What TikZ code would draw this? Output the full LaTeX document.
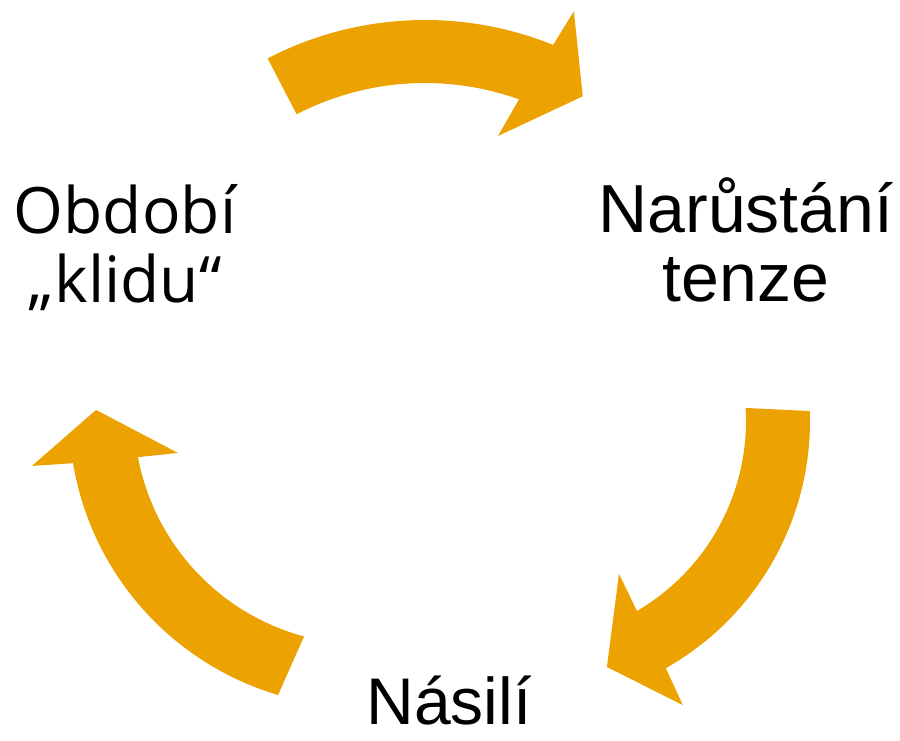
\documentclass[tikz,border=0pt]{standalone}
\usepackage{fontspec}
\setmainfont{Liberation Sans}
\newfontfamily\klidfont{Open Sans}
\usepackage{tikz}
\definecolor{oranzova}{RGB}{236,162,0}

\begin{document}
\begin{tikzpicture}[x=1pt, y=1pt, sipka/.style={fill=oranzova, draw=none}, faze/.style={align=center, anchor=base, inner sep=0pt, font=\fontsize{68}{69}\selectfont}]
\useasboundingbox (0,0) rectangle (900,740);
% horni sipka
\begin{scope}[shift={(425,378)}]
\fill[sipka] (117.4:342) arc[start angle=117.4, end angle=68, radius=342] -- (67:381) -- (59.3:309) -- (72.1:237.5) -- (70.3:279) arc[start angle=70.3, end angle=117.4, radius=279] -- cycle;
\end{scope}
% prava sipka
\begin{scope}[shift={(526,319)}]
\fill[sipka] (2:284) arc[start angle=2, end angle=-60.5, radius=284] -- (-61.1:324.5) -- (-71.8:259) -- (-58.7:179) -- (-59.7:220) arc[start angle=-59.7, end angle=3.4, radius=220] -- cycle;
\end{scope}
% leva sipka
\begin{scope}[shift={(361,325)}]
\fill[sipka] (253.5:292) arc[start angle=253.5, end angle=189.5, radius=292] -- (188.8:333) -- (178.9:265) -- (191.7:187) -- (190.7:227) arc[start angle=190.7, end angle=254.9, radius=230] -- cycle;
\end{scope}
\node (klid) [faze, font=\klidfont\fontsize{64}{69}\selectfont] at (125,437) {Období\\„klidu“};
\node (tenze) [faze] at (746,438) {Narůstání\\tenze};
\node (nasili) [faze, font=\fontsize{66}{69}\selectfont] at (449,16) {Násilí};
%\node (stred) at (440,330) {};
\end{tikzpicture}
\end{document}
